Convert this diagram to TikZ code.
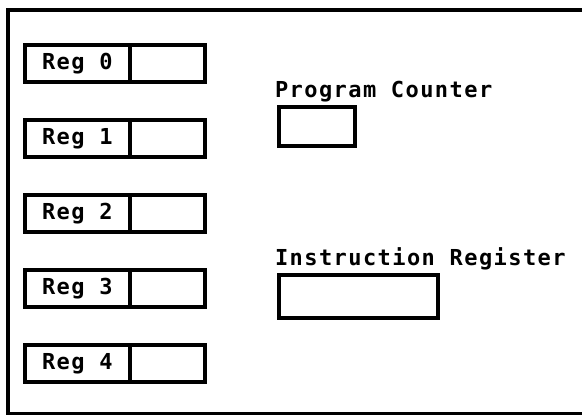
\documentclass[tikz,border=0pt]{standalone}
\usepackage{fontspec}
\newfontfamily\regfont[LetterSpace=6.5]{DejaVu Sans Mono}
\usetikzlibrary{positioning}

\begin{document}
\begin{tikzpicture}[x=1pt,y=-1pt]
    \tikzstyle{every node}+=[inner sep=0pt, outer sep=0pt, font=\regfont\fontsize{22}{26}\selectfont\bfseries]
    \tikzstyle{cell}=[draw=black, line width=4pt, minimum height=37pt]
    \useasboundingbox (0,0) rectangle (582,415);
    \clip (0,0) rectangle (582,415);
    \draw [black, line width=4pt] (8,10) rectangle (600,414);
    % registers
    \node [cell, minimum width=105.3pt] (reg0) at (77.35,63.5) {Reg 0};
    \node [cell, minimum width=74.7pt, anchor=west] (val0) at (reg0.east) {};
    \node [cell, minimum width=105.3pt] (reg1) at (77.35,138.5) {Reg 1};
    \node [cell, minimum width=74.7pt, anchor=west] (val1) at (reg1.east) {};
    \node [cell, minimum width=105.3pt] (reg2) at (77.35,213.5) {Reg 2};
    \node [cell, minimum width=74.7pt, anchor=west] (val2) at (reg2.east) {};
    \node [cell, minimum width=105.3pt] (reg3) at (77.35,288.5) {Reg 3};
    \node [cell, minimum width=74.7pt, anchor=west] (val3) at (reg3.east) {};
    \node [cell, minimum width=105.3pt] (reg4) at (77.35,363.5) {Reg 4};
    \node [cell, minimum width=74.7pt, anchor=west] (val4) at (reg4.east) {};
    % program counter
    \node [anchor=base west] (pclabel) at (275,97) {Program Counter};
    \node [cell, minimum width=76pt, minimum height=39pt, anchor=north west] (pc) at (279,107) {};
    % instruction register
    \node [anchor=base west] (irlabel) at (275,265) {Instruction Register};
    \node [cell, minimum width=159pt, minimum height=43pt, anchor=north west] (ir) at (279,275) {};
\end{tikzpicture}
\end{document}
